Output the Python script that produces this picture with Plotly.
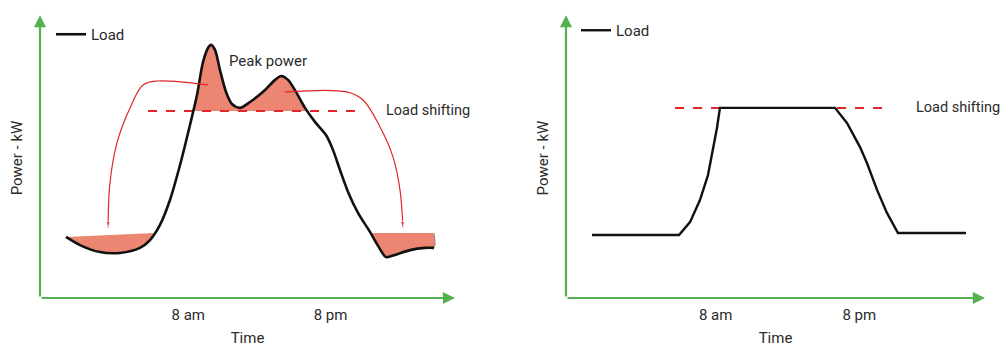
import plotly.graph_objects as go

# ---------------- data (time in hours, power in kW, schematic) ----------------
tick_vals = [8, 20]
tick_text = ["8 am", "8 pm"]

# Left panel: original load profile
left_time = [-2.31, -1.13, 0.56, 2.25, 3.93, 4.78, 5.62, 6.46, 7.31, 8.15, 8.74, 9.25,
             9.67, 9.92, 10.26, 10.68, 11.19, 11.69, 12.37, 13.21, 14.48, 15.32, 15.83,
             16.42, 17.09, 17.85, 18.69, 19.62, 20.21, 20.80, 21.48, 22.32, 23.33, 24.01,
             24.68, 25.44, 26.71, 27.97, 28.73]
left_load = [2.18, 1.89, 1.64, 1.61, 1.79, 2.07, 2.61, 3.50, 4.75, 6.18, 7.25, 8.43,
             8.93, 9.04, 8.86, 8.14, 7.36, 6.93, 6.79, 7.00, 7.43, 7.79, 7.93,
             7.79, 7.36, 6.79, 6.29, 5.82, 5.29, 4.57, 3.79, 3.04, 2.36, 1.86,
             1.46, 1.54, 1.71, 1.79, 1.79]
left_shift_level = 6.68
left_shift_span = [4.61, 22.32]
left_valley_level = [2.18, 2.32]      # top edge of the early-morning filled valley
right_valley_level = 2.32            # top edge of the night filled valley

# Right panel: shifted (flattened) load profile
right_time = [-2.33, 4.94, 5.86, 6.69, 7.36, 7.78, 8.11, 8.36, 17.97, 18.97, 20.06,
              20.64, 21.48, 22.31, 23.23, 28.91]
right_load = [2.25, 2.25, 2.71, 3.50, 4.39, 5.29, 6.07, 6.79, 6.79, 6.25, 5.39,
              4.82, 3.86, 3.04, 2.32, 2.32]
right_shift_level = 6.79
right_shift_span = [4.61, 22.57]

# Red "shift" arrows on the left panel
arrow1_time = [9.67, 5.37, 4.19, 3.09, 1.99, 1.40, 1.24]
arrow1_kw = [7.61, 7.75, 7.61, 6.79, 5.54, 4.11, 2.50]
arrow2_time = [16.16, 21.39, 22.74, 24.18, 25.27, 25.86, 26.11]
arrow2_kw = [7.36, 7.36, 7.07, 6.11, 5.04, 3.86, 2.50]

# ---------------- style ----------------
W, H = 1003, 347
GREEN = "#55b04f"
RED = "#e0262a"
FILL = "#ec8571"
TXT = "#2b2b2b"
FONT = "Roboto"
FS = 15
XR = [-4.5, 30.5]
YR = [0, 10]


def crossing(xs, ys, level, i):
    """x where segment i..i+1 crosses the level (linear)."""
    x0, x1, y0, y1 = xs[i], xs[i + 1], ys[i], ys[i + 1]
    return x0 + (x1 - x0) * (level - y0) / (y1 - y0)


fig = go.Figure()
edge = dict(color="rgba(120,120,120,0.7)", width=1, shape="spline")

# ---- left panel fills ----
above = [i for i, v in enumerate(left_load) if v >= left_shift_level]
i0, i1 = above[0], above[-1]
xa = crossing(left_time, left_load, left_shift_level, i0 - 1)
xb = crossing(left_time, left_load, left_shift_level, i1)
px_ = [xa] + [left_time[i] for i in range(i0, i1 + 1)] + [xb]
py_ = [left_shift_level] + [left_load[i] for i in range(i0, i1 + 1)] + [left_shift_level]
fig.add_trace(go.Scatter(x=px_, y=py_, mode="lines", fill="toself", fillcolor=FILL, line=edge,
                         hoverinfo="skip", showlegend=False, xaxis="x", yaxis="y"))

j = next(i for i in range(len(left_load) - 1)
         if left_load[i] < left_valley_level[1] <= left_load[i + 1] and left_time[i] < 8)
xc = crossing(left_time, left_load, left_valley_level[1], j)
vx = left_time[:j + 1] + [xc]
vy = left_load[:j + 1] + [left_valley_level[1]]
fig.add_trace(go.Scatter(x=vx, y=vy, mode="lines", fill="toself", fillcolor=FILL, line=edge,
                         hoverinfo="skip", showlegend=False, xaxis="x", yaxis="y"))

k = next(i for i in range(len(left_load) - 1)
         if left_time[i] > 20 and left_load[i] >= right_valley_level > left_load[i + 1])
xd = crossing(left_time, left_load, right_valley_level, k)
nx = [xd] + left_time[k + 1:] + [left_time[-1]]
ny = [right_valley_level] + left_load[k + 1:] + [right_valley_level]
fig.add_trace(go.Scatter(x=nx, y=ny, mode="lines", fill="toself", fillcolor=FILL, line=edge,
                         hoverinfo="skip", showlegend=False, xaxis="x", yaxis="y"))

# dashed load-shifting levels
fig.add_trace(go.Scatter(x=left_shift_span, y=[left_shift_level] * 2, mode="lines",
                         line=dict(color=RED, width=2, dash="dash"), hoverinfo="skip",
                         showlegend=False, xaxis="x", yaxis="y"))
fig.add_trace(go.Scatter(x=right_shift_span, y=[right_shift_level] * 2, mode="lines",
                         line=dict(color=RED, width=2, dash="dash"), hoverinfo="skip",
                         showlegend=False, xaxis="x2", yaxis="y2"))

# load curves
fig.add_trace(go.Scatter(x=left_time, y=left_load, mode="lines", name="Load",
                         line=dict(color="#111111", width=2.6, shape="spline", smoothing=0.8),
                         xaxis="x", yaxis="y", legend="legend"))
fig.add_trace(go.Scatter(x=right_time, y=right_load, mode="lines", name="Load",
                         line=dict(color="#111111", width=2.4, shape="linear"),
                         xaxis="x2", yaxis="y2", legend="legend2"))

# red arrows
for ax_, ay_ in [(arrow1_time, arrow1_kw), (arrow2_time, arrow2_kw)]:
    fig.add_trace(go.Scatter(x=ax_, y=ay_, mode="lines+markers",
                             line=dict(color=RED, width=1.2, shape="spline"),
                             marker=dict(symbol="arrow", angleref="previous", color=RED,
                                         size=[0] * (len(ax_) - 1) + [7]),
                             hoverinfo="skip", showlegend=False, xaxis="x", yaxis="y"))


# ---------------- layout ----------------
def xaxis(dom):
    return dict(domain=dom, range=XR, showgrid=False, zeroline=False, showline=False,
                tickvals=tick_vals, ticktext=tick_text, ticks="", ticklabelstandoff=6,
                tickfont=dict(family=FONT, size=FS, color=TXT),
                title=dict(text="Time", font=dict(family=FONT, size=FS, color=TXT), standoff=13),
                fixedrange=True, automargin=False)


def yaxis(dom, anchor):
    return dict(domain=dom, range=YR, showgrid=False, zeroline=False, showline=False,
                showticklabels=False, ticks="", anchor=anchor,
                title=dict(text="Power - kW", font=dict(family=FONT, size=FS, color=TXT),
                           standoff=12),
                fixedrange=True, automargin=False)


ydom = [(H - 298) / H, (H - 18) / H]
fig.update_layout(
    width=W, height=H,
    margin=dict(l=0, r=0, t=0, b=0),
    paper_bgcolor="white", plot_bgcolor="white",
    font=dict(family=FONT, size=FS, color=TXT),
    xaxis=xaxis([40 / W, 455 / W]),
    yaxis=yaxis(ydom, "x"),
    xaxis2=dict(xaxis([566 / W, 985 / W]), anchor="y2"),
    yaxis2=yaxis(ydom, "x2"),
    legend=dict(x=51 / W, y=(H - 18) / H, xanchor="left", yanchor="top",
                bgcolor="rgba(0,0,0,0)", font=dict(family=FONT, size=FS, color=TXT)),
    legend2=dict(x=576 / W, y=(H - 14) / H, xanchor="left", yanchor="top",
                 bgcolor="rgba(0,0,0,0)", font=dict(family=FONT, size=FS, color=TXT)),
    showlegend=True,
)

# green axis arrows
for xr, yr in [("x domain", "y domain"), ("x2 domain", "y2 domain")]:
    fig.add_annotation(x=1, y=0, ax=0, ay=0, xref=xr, yref=yr, axref=xr, ayref=yr,
                       showarrow=True, arrowhead=2, arrowsize=1.1, arrowwidth=2.2,
                       arrowcolor=GREEN, text="", standoff=0, startstandoff=0)
    fig.add_annotation(x=0, y=1.01, ax=0, ay=0, xref=xr, yref=yr, axref=xr, ayref=yr,
                       showarrow=True, arrowhead=2, arrowsize=1.1, arrowwidth=2.2,
                       arrowcolor=GREEN, text="", standoff=0, startstandoff=0)

# text labels
fig.add_annotation(x=11.27, y=8.46, xref="x", yref="y", text="Peak power", showarrow=False,
                   xanchor="left", font=dict(family=FONT, size=FS, color=TXT))
fig.add_annotation(x=24.55, y=left_shift_level, xref="x", yref="y", text="Load shifting",
                   showarrow=False, xanchor="left", font=dict(family=FONT, size=14.5, color=TXT))
fig.add_annotation(x=1.0, y=right_shift_level, xref="paper", yref="y2", text="Load shifting",
                   showarrow=False, xanchor="right", xshift=-1,
                   font=dict(family=FONT, size=14.5, color=TXT))

fig.write_html("out.html", config={"displayModeBar": False},
               post_script="document.body.style.margin='0px';")
